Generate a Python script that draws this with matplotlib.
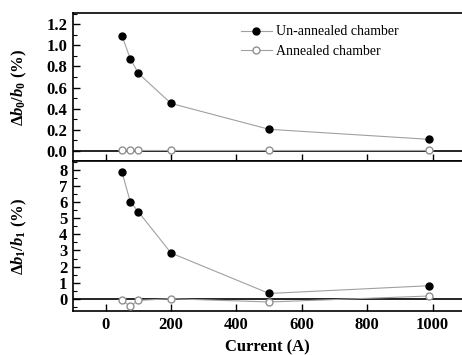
import matplotlib
matplotlib.use('Agg')
import matplotlib.pyplot as plt
from matplotlib.ticker import MultipleLocator

current = [50, 75, 100, 200, 500, 990]
b0_unannealed = [1.09, 0.875, 0.735, 0.45, 0.205, 0.11]
b0_annealed = [0.01, 0.01, 0.01, 0.01, 0.01, 0.01]
b1_unannealed = [7.86, 6.04, 5.4, 2.84, 0.33, 0.81]
b1_annealed = [-0.1, -0.48, -0.1, 0.0, -0.2, 0.17]

plt.rcParams['font.family'] = 'Liberation Serif'
plt.rcParams['mathtext.fontset'] = 'custom'
plt.rcParams['mathtext.rm'] = 'Liberation Serif:bold'
plt.rcParams['mathtext.it'] = 'Liberation Serif:bold:italic'
plt.rcParams['mathtext.bf'] = 'Liberation Serif:bold'

fig = plt.figure(figsize=(4.62, 3.55), dpi=100)
ax1 = fig.add_axes([0.158, 0.5465, 0.842, 0.417])
ax2 = fig.add_axes([0.158, 0.124, 0.842, 0.4225])

line_c = '#a0a0a0'


def style_axis(ax):
    for s in ax.spines.values():
        s.set_linewidth(1.2)
    ax.spines['right'].set_visible(False)
    ax.tick_params(direction='in', length=5, width=1, labelsize=12, pad=4)
    ax.tick_params(which='minor', direction='in', length=3, width=0.8)
    ax.tick_params(top=False, right=False)
    ax.tick_params(axis='x', which='minor', bottom=False)
    ax.axhline(0, color='black', lw=1.2, zorder=1)
    ax.set_xlim(-100, 1090)
    ax.xaxis.set_major_locator(MultipleLocator(200))


ax1.plot(current, b0_unannealed, '-o', color=line_c, lw=0.8, ms=5,
         mfc='black', mec='black', label='Un-annealed chamber', zorder=3)
ax1.plot(current, b0_annealed, '-o', color=line_c, lw=0.8, ms=5,
         mfc='white', mec='#909090', label='Annealed chamber', zorder=3)
ax1.set_ylim(-0.095, 1.307)
ax1.yaxis.set_minor_locator(MultipleLocator(0.1))
ax1.set_yticks([0.0, 0.2, 0.4, 0.6, 0.8, 1.0, 1.2])
ax1.set_yticklabels(['0.0', '0.2', '0.4', '0.6', '0.8', '1.0', '1.2'])
style_axis(ax1)
ax1.tick_params(labelbottom=False)
ax1.set_ylabel(r'$\Delta b_0/b_0$ (%)', fontsize=12, fontweight='bold')
ax1.legend(loc='upper left', bbox_to_anchor=(0.4, 1.0), frameon=False,
           fontsize=10, handlelength=2.2, handletextpad=0.3, labelspacing=0.45,
           borderaxespad=0.5)

ax2.plot(current, b1_unannealed, '-o', color=line_c, lw=0.8, ms=5,
         mfc='black', mec='black', zorder=3)
ax2.plot(current, b1_annealed, '-o', color=line_c, lw=0.8, ms=5,
         mfc='white', mec='#909090', zorder=3)
ax2.set_ylim(-0.76, 8.56)
ax2.yaxis.set_major_locator(MultipleLocator(1))
ax2.yaxis.set_minor_locator(MultipleLocator(0.5))
style_axis(ax2)
ax2.set_ylabel(r'$\Delta b_1/b_1$ (%)', fontsize=12, fontweight='bold')
ax2.set_xlabel('Current (A)', fontsize=12, fontweight='bold', labelpad=5)

for ax in (ax1, ax2):
    for t in ax.get_xticklabels() + ax.get_yticklabels():
        t.set_fontweight('bold')
    ax.yaxis.set_label_coords(-0.112, 0.5)

fig.savefig('out.png', dpi=100)
